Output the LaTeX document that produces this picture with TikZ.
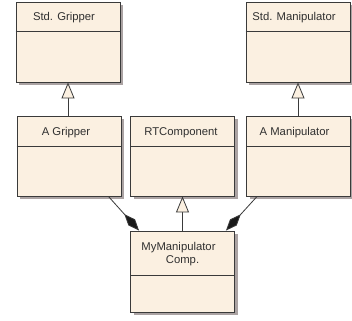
\documentclass[tikz,border=0pt]{standalone}
\usepackage{fontspec}
\setmainfont{Liberation Sans}
\usetikzlibrary{arrows.meta,shadows,calc}
\definecolor{classfill}{HTML}{FBF0E1}
\definecolor{classline}{HTML}{3A3A3A}
\definecolor{shadowgray}{HTML}{ABA3A3}
\definecolor{textgray}{HTML}{303030}
\tikzset{
  classbox/.style={draw=classline, line width=0.9pt, fill=classfill,
    minimum width=104pt, minimum height=80pt, inner sep=0pt,
    drop shadow={shadow xshift=3pt, shadow yshift=-3pt, fill=shadowgray, opacity=1}},
  classname/.style={font=\fontsize{11.3}{14}\selectfont, text=textgray, inner sep=0pt, align=center},
  divider/.style={draw=classline, line width=0.9pt},
  generalize/.style={draw=classline, line width=0.8pt,
    -{Triangle[open, length=16pt, width=13pt, fill=classfill]}},
  compose/.style={draw=classline, line width=0.8pt,
    -{Diamond[length=22pt, width=9pt, fill=black!90]}},
}
\begin{document}
\begin{tikzpicture}[x=1pt, y=-1pt]
\useasboundingbox[fill=white] (0,0) rectangle (352,320);

% class boxes
\node[classbox] (sg) at (68,42) {};
\node[classbox] (sm) at (298,42) {};
\node[classbox] (ag) at (69,156) {};
\node[classbox] (rt) at (182.5,156) {};
\node[classbox] (am) at (298.5,156) {};
\node[classbox, minimum height=81pt] (mm) at (182.5,271.5) {};

% header dividers
\draw[divider] ([yshift=-30pt]sg.north west) -- ([yshift=-30pt]sg.north east);
\draw[divider] ([yshift=-30pt]sm.north west) -- ([yshift=-30pt]sm.north east);
\draw[divider] ([yshift=-31pt]ag.north west) -- ([yshift=-31pt]ag.north east);
\draw[divider] ([yshift=-31pt]rt.north west) -- ([yshift=-31pt]rt.north east);
\draw[divider] ([yshift=-31pt]am.north west) -- ([yshift=-31pt]am.north east);
\draw[divider] ([yshift=-45pt]mm.north west) -- ([yshift=-45pt]mm.north east);

% class names
\node[classname] (sgt) at ([xshift=-4pt, yshift=-16.5pt]sg.north) {Std. Gripper};
\node[classname] (smt) at ([xshift=-4pt, yshift=-16.5pt]sm.north) {Std. Manipulator};
\node[classname] (agt) at ([xshift=-3pt, yshift=-17pt]ag.north) {A Gripper};
\node[classname] (rtt) at ([xshift=-1.5pt, yshift=-17pt]rt.north) {RTComponent};
\node[classname] (amt) at ([xshift=-4pt, yshift=-17pt]am.north) {A Manipulator};
\node[classname] (mmt) at ([xshift=-4pt, yshift=-24pt]mm.north) {MyManipulator\\[-1pt]\hspace*{8pt}Comp.};

% generalizations
\draw[generalize] (ag.north -| sg.south) -- (sg.south);
\draw[generalize] (am.north -| sm.south) -- (sm.south);
\draw[generalize] (mm.north) -- (mm.north |- rt.south);

% compositions
\draw[compose] ([xshift=-13pt]ag.south east) -- ([xshift=9pt]mm.north west);
\draw[compose] ([xshift=11pt]am.south west) -- ([xshift=-9pt]mm.north east);
\end{tikzpicture}
\end{document}
